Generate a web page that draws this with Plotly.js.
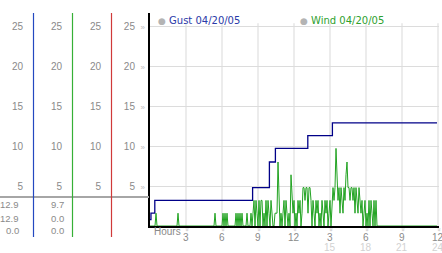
<!DOCTYPE html>
<html><head><meta charset="utf-8">
<script src="https://cdn.plot.ly/plotly-3.0.1.min.js"></script>
<style>html,body{margin:0;padding:0;background:#fff;overflow:hidden}</style>
</head><body><div id="chart" style="width:442px;height:253px"></div>
<script>
// ---------- data ----------
const sampleMinutes = 5;
// wind speed, one reading every 5 minutes (12 per line = 1 hour)
const windValues = [
  0,0,0,0,0,0,1.6,0,0,0,0,0,
  0,0,0,0,0,0,0,0,0,0,0,0,
  0,0,0,0,1.6,0,0,0,0,0,0,0,
  0,0,0,0,0,0,0,0,0,0,0,0,
  0,0,0,0,0,0,0,0,0,0,0,0,
  0,0,0,0,0,1.6,0,0,0,0,0,0,
  0,1.6,0,1.6,0,1.6,0,0,0,0,0,0,
  0,0,1.6,0,1.6,0,1.6,0,1.6,0,0,0,
  0,1.6,0,0,0,1.6,0,1.6,3.2,0,3.2,1.6,
  0,3.2,0,3.2,3.2,0,1.6,0,3.2,0,3.2,1.6,
  0,3.2,1.6,0,0,1.6,1.6,1.6,8.0,1.6,0,1.6,
  0,1.6,3.2,0,3.2,1.6,0,1.6,0,6.4,3.2,1.6,
  3.2,0,1.6,0,3.2,1.6,3.2,0,1.6,4.8,4.8,3.2,
  4.8,4.8,1.6,4.8,4.8,3.2,0,3.2,1.6,0,3.2,1.6,
  3.2,0,1.6,0,3.2,1.6,0,3.2,1.6,3.2,0,1.6,
  3.2,0,3.2,4.8,3.2,4.8,9.7,6.4,3.2,4.8,1.6,4.8,
  3.2,1.6,4.8,3.2,6.4,8.0,4.8,4.8,3.2,4.8,4.8,3.2,
  4.8,1.6,4.8,3.2,1.6,4.8,3.2,1.6,3.2,0,1.6,3.2,
  0,1.6,0,3.2,0,3.2,1.6,0,3.2,0,3.2,0,
  0,0,0,0,0,0,0,0,0,0,0,0,
  0,0,0,0,0,0,0,0,0,0,0,0,
  0,0,0,0,0,0,0,0,0,0,0,0,
  0,0,0,0,0,0,0,0,0,0,0,0,
  0,0,0,0,0,0,0,0,0,0,0,0
];
const gustHours  = [0,   0.08, 0.4, 8.55, 9.95, 10.45, 13.15, 15.2, 23.92];
const gustValues = [0.8, 1.6,  3.2, 4.8,  8.0,  9.7,   11.3,  12.9, 12.9];
const seriesNames = ['Gust 04/20/05', 'Wind 04/20/05'];
const yTicks = [5, 10, 15, 20, 25];
const hourTicks = [3, 6, 9, 12, 15, 18, 21, 24];
const hourLabels = ['3', '6', '9', '12', '3', '6', '9', '12'];
const hourLabels2 = ['', '', '', '', '15', '18', '21', '24'];
const statGust = ['12.9', '12.9', '0.0'];
const statWind = ['9.7', '0.0', '0.0'];

// ---------- geometry / style ----------
const W = 442, H = 253, mL = 0, mR = 3, mT = 13, mB = 27;
const PW = W - mL - mR, PH = H - mT - mB;
const px = v => v / PW;                 // pixel x -> paper
const py = v => (H - mB - v) / PH;      // pixel y -> paper
const plotLeft = 150;
const hourSpan = (PW - plotLeft) / 12;  // 12 px per hour
const yTop = PH / 8;                    // 8 px per unit
const colX = [33, 72, 111];
const colColors = ['#2448c0', '#36b036', '#d03a3a'];
const tickGray = '#8a8a8a';
const markGray = '#bdbdbd';
const tf = {family: 'Liberation Sans, Arial, sans-serif', size: 10, color: tickGray};

const windHours = windValues.map((_, i) => i * sampleMinutes / 60);

const traces = [
  {x: gustHours, y: gustValues, type: 'scatter', mode: 'lines', line: {shape: 'hv', color: '#000088', width: 1.3}, hoverinfo: 'skip', name: seriesNames[0]},
  {x: windHours, y: windValues, type: 'scatter', mode: 'lines', line: {color: '#22a322', width: 1}, hoverinfo: 'skip', name: seriesNames[1]}
];
// invisible carriers so the three side scales are drawn
['y2', 'y3', 'y4'].forEach(ax => traces.push({x: gustHours, y: gustValues, yaxis: ax, type: 'scatter', mode: 'lines', opacity: 0, line: {width: 0}, hoverinfo: 'skip', showlegend: false}));

const sideAxis = (i) => ({
  overlaying: 'y', anchor: 'free', position: px(colX[i]), side: 'left',
  range: [0, yTop], showline: false,
  showgrid: false, zeroline: false, ticks: '', tickvals: yTicks, ticktext: yTicks.map(String),
  tickfont: tf, ticklabelstandoff: 10, fixedrange: true
});

const shapes = [];
hourTicks.forEach(h => shapes.push({type: 'line', xref: 'x', yref: 'y', x0: h, x1: h, y0: 0, y1: 25.35, line: {color: '#d9d9d9', width: 1}, layer: 'below'}));
shapes.push({type: 'line', xref: 'paper', yref: 'paper', x0: 0, x1: px(plotLeft - 1), y0: py(197), y1: py(197), line: {color: '#a6a6a6', width: 2}});
colX.forEach((c, i) => shapes.push({type: 'line', xref: 'paper', yref: 'paper', x0: px(c + 0.5), x1: px(c + 0.5), y0: 1, y1: py(237), line: {color: colColors[i], width: 1.2}}));

const ann = [];
const rowsY = [204, 218.5, 231];
const sf = {family: tf.family, size: 9.5, color: tickGray};
statGust.forEach((t, r) => ann.push({xref: 'paper', yref: 'paper', x: px(21), y: py(rowsY[r]), xanchor: 'right', yanchor: 'middle', text: t, showarrow: false, font: sf}));
statWind.forEach((t, r) => ann.push({xref: 'paper', yref: 'paper', x: px(66), y: py(rowsY[r]), xanchor: 'right', yanchor: 'middle', text: t, showarrow: false, font: sf}));
hourTicks.forEach((h, i) => {
  ann.push({xref: 'x', yref: 'paper', x: h, y: py(229.5), xanchor: 'center', yanchor: 'middle', text: '»', textangle: 90, showarrow: false, font: {family: 'DejaVu Sans', size: 7, color: markGray}});
  ann.push({xref: 'x', yref: 'paper', x: h, y: py(238), xanchor: 'center', yanchor: 'middle', text: hourLabels[i], showarrow: false, font: tf});
  if (hourLabels2[i]) ann.push({xref: 'x', yref: 'paper', x: h, y: py(247), xanchor: 'center', yanchor: 'middle', text: hourLabels2[i], showarrow: false, font: {family: tf.family, size: 10, color: '#d2d2d2'}});
});
ann.push({xref: 'paper', yref: 'paper', x: px(152), y: py(231.5), xanchor: 'left', yanchor: 'middle', text: 'Hours', showarrow: false, font: tf});
const legX = [156, 298], legColors = ['#2a3aa8', '#2f9f2f'];
seriesNames.forEach((n, i) => ann.push({xref: 'paper', yref: 'paper', x: px(legX[i]), y: py(20), xanchor: 'left', yanchor: 'middle', showarrow: false,
  text: '<span style="color:#b4b4b4;font-size:9px">●</span><span style="color:' + legColors[i] + '"> ' + n + '</span>',
  font: {family: 'DejaVu Sans, sans-serif', size: 10}}));

const layout = {
  width: W, height: H, margin: {l: mL, r: mR, t: mT, b: mB, pad: 0},
  paper_bgcolor: '#ffffff', plot_bgcolor: '#ffffff', showlegend: false,
  xaxis: {domain: [px(plotLeft), 1], range: [0, hourSpan], showgrid: false, zeroline: false, showline: true, linecolor: '#000000', linewidth: 2,
          showticklabels: false, ticks: '', layer: 'below traces', fixedrange: true},
  yaxis: {range: [0, yTop], showgrid: true, gridcolor: '#dcdcdc', gridwidth: 1, zeroline: false, showline: true, linecolor: '#000000', linewidth: 2,
          ticks: '', tickvals: yTicks, ticktext: yTicks.map(v => v + '&nbsp;&nbsp;<span style="font-size:8px;color:' + markGray + '">»</span>'),
          tickfont: tf, ticklabelstandoff: 1, fixedrange: true},
  yaxis2: sideAxis(0), yaxis3: sideAxis(1), yaxis4: sideAxis(2),
  shapes: shapes, annotations: ann
};
Plotly.newPlot('chart', traces, layout, {staticPlot: true, displayModeBar: false});
</script></body></html>
